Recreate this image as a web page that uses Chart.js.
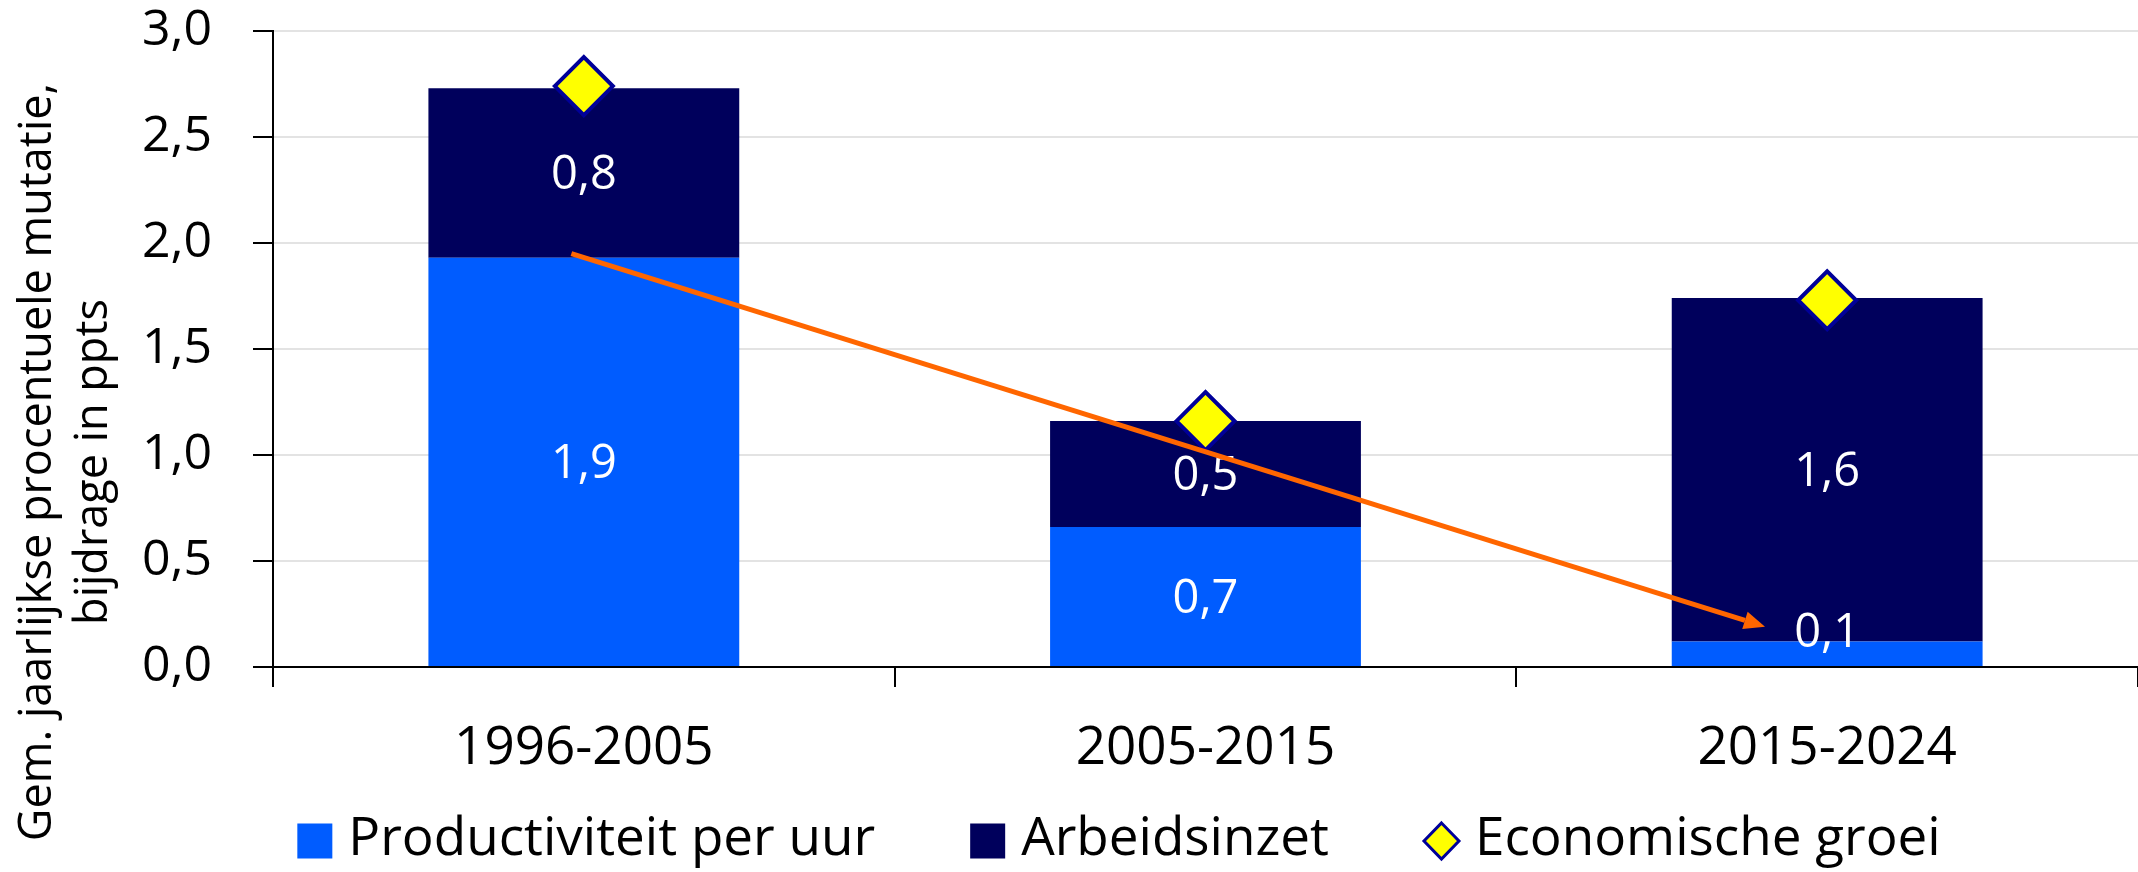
<!DOCTYPE html>
<html>
<head>
<meta charset="utf-8">
<script src="https://cdn.jsdelivr.net/npm/chart.js@4.4.1/dist/chart.umd.min.js"></script>
<style>
  html, body { margin: 0; padding: 0; background: #fff; }
  #wrap { width: 2138px; height: 872px; }
</style>
</head>
<body>
<div id="wrap"><canvas id="myChart"></canvas></div>
<script>
const categories = ["1996-2005", "2005-2015", "2015-2024"];
const productiviteit = [1.93, 0.66, 0.12];
const arbeidsinzet = [0.80, 0.50, 1.62];
const economischeGroei = [2.74, 1.16, 1.73];
const yTickLabels = ["0,0", "0,5", "1,0", "1,5", "2,0", "2,5", "3,0"];
const yTitle = ["Gem. jaarlijkse procentuele mutatie,", "bijdrage in ppts"];
// arrow drawn over the bars, as [category index, value]
const arrowFrom = [-0.02, 1.95];
const arrowTo = [1.9, 0.19];

const FONT = "'Open Sans', 'Noto Sans', sans-serif";
const fmt = (v) => v.toFixed(1).replace(".", ",");

// white value labels in the bar segments, then the orange arrow
const overlayPlugin = {
  id: "overlay",
  afterDatasetsDraw(chart) {
    const ctx = chart.ctx;
    ctx.save();
    ctx.font = "47px " + FONT;
    ctx.fillStyle = "#fff";
    ctx.textAlign = "center";
    ctx.textBaseline = "middle";
    chart.data.datasets.forEach((d, i) => {
      if (d.type === "line") return;
      chart.getDatasetMeta(i).data.forEach((el, j) => {
        const mid = (el.y + el.base) / 2 + 3;
        ctx.fillText(fmt(d.data[j]), el.x, Math.min(mid, el.base - 32));
      });
    });

    const xs = chart.scales.x, ys = chart.scales.y;
    const x1 = xs.getPixelForValue(arrowFrom[0]), y1 = ys.getPixelForValue(arrowFrom[1]);
    const x2 = xs.getPixelForValue(arrowTo[0]), y2 = ys.getPixelForValue(arrowTo[1]);
    const a = Math.atan2(y2 - y1, x2 - x1);
    const head = 21, hw = 9;
    const bx = x2 - head * Math.cos(a), by = y2 - head * Math.sin(a);
    ctx.strokeStyle = "#FF6600";
    ctx.fillStyle = "#FF6600";
    ctx.lineWidth = 5;
    ctx.beginPath();
    ctx.moveTo(x1, y1);
    ctx.lineTo(bx, by);
    ctx.stroke();
    ctx.beginPath();
    ctx.moveTo(x2, y2);
    ctx.lineTo(bx - hw * Math.sin(a), by + hw * Math.cos(a));
    ctx.lineTo(bx + hw * Math.sin(a), by - hw * Math.cos(a));
    ctx.closePath();
    ctx.fill();
    ctx.restore();
  },
};

// two-line rotated y title and the bottom legend
const textPlugin = {
  id: "texts",
  afterDraw(chart) {
    const ctx = chart.ctx;
    ctx.save();
    ctx.fillStyle = "#000";
    ctx.font = "45px " + FONT;
    ctx.textAlign = "center";
    ctx.textBaseline = "middle";
    [38, 94].forEach((x, i) => {
      ctx.save();
      ctx.translate(x, 462);
      ctx.rotate(-Math.PI / 2);
      ctx.fillText(yTitle[i], 0, 0);
      ctx.restore();
    });

    const ds = chart.data.datasets;
    ctx.font = "53px " + FONT;
    ctx.textAlign = "left";
    const box = 35, gap = 16, itemGap = 95;
    const widths = ds.map((d) => box + gap + ctx.measureText(d.label).width);
    const total = widths.reduce((s, w) => s + w, 0) + itemGap * (ds.length - 1);
    let x = 1119 - total / 2;
    const y = 841;
    ds.forEach((d, i) => {
      if (d.type === "line") {
        ctx.beginPath();
        ctx.moveTo(x + box / 2, y - 18);
        ctx.lineTo(x + box, y);
        ctx.lineTo(x + box / 2, y + 18);
        ctx.lineTo(x, y);
        ctx.closePath();
        ctx.fillStyle = d.backgroundColor;
        ctx.fill();
        ctx.lineWidth = 3;
        ctx.strokeStyle = d.borderColor;
        ctx.stroke();
      } else {
        ctx.fillStyle = d.backgroundColor;
        ctx.fillRect(x, y - box / 2, box, box);
      }
      ctx.fillStyle = "#000";
      ctx.fillText(d.label, x + box + gap, y - 1);
      x += widths[i] + itemGap;
    });
    ctx.restore();
  },
};

const ctx = document.getElementById("myChart").getContext("2d");
const myChart = new Chart(ctx, {
  type: "bar",
  data: {
    labels: categories,
    datasets: [
      {
        label: "Productiviteit per uur",
        data: productiviteit,
        backgroundColor: "#005CFF",
        order: 1,
        categoryPercentage: 0.5,
        barPercentage: 1,
      },
      {
        label: "Arbeidsinzet",
        data: arbeidsinzet,
        backgroundColor: "#00005C",
        order: 1,
        categoryPercentage: 0.5,
        barPercentage: 1,
      },
      {
        type: "line",
        label: "Economische groei",
        data: economischeGroei,
        stack: "groei",
        showLine: false,
        pointStyle: "rectRot",
        pointRadius: 29,
        pointHoverRadius: 29,
        backgroundColor: "#FFFF00",
        borderColor: "#000099",
        pointBorderWidth: 4,
        order: 0,
      },
    ],
  },
  options: {
    responsive: true,
    maintainAspectRatio: false,
    animation: false,
    layout: { autoPadding: false, padding: { left: 0, top: 31, right: 0, bottom: 0 } },
    plugins: {
      legend: { display: false },
      tooltip: { enabled: false },
    },
    scales: {
      x: {
        stacked: true,
        afterFit: (scale) => {
          scale.height = 205;
          scale.paddingLeft = 0;
          scale.paddingRight = 0;
        },
        grid: {
          display: true,
          drawOnChartArea: false,
          drawTicks: true,
          tickLength: 20,
          color: "#000",
          lineWidth: 2,
          offset: true,
        },
        border: { display: true, color: "#000", width: 2 },
        ticks: {
          color: "#000",
          font: { family: FONT, size: 53 },
          padding: 30,
          maxRotation: 0,
        },
      },
      y: {
        stacked: true,
        min: 0,
        max: 3,
        afterFit: (scale) => {
          scale.width = 273;
          scale.paddingTop = 0;
          scale.paddingBottom = 0;
        },
        ticks: {
          stepSize: 0.5,
          color: "#000",
          font: { family: FONT, size: 50 },
          padding: 41,
          callback: (v, i) => yTickLabels[i],
        },
        grid: {
          color: (c) => (c.tick && c.tick.value === 0 ? "#000" : "#e3e3e3"),
          lineWidth: 2,
          tickColor: "#000",
          tickLength: 20,
          drawTicks: true,
        },
        border: { display: true, color: "#000", width: 2 },
      },
    },
  },
  plugins: [overlayPlugin, textPlugin],
});
</script>
</body>
</html>
